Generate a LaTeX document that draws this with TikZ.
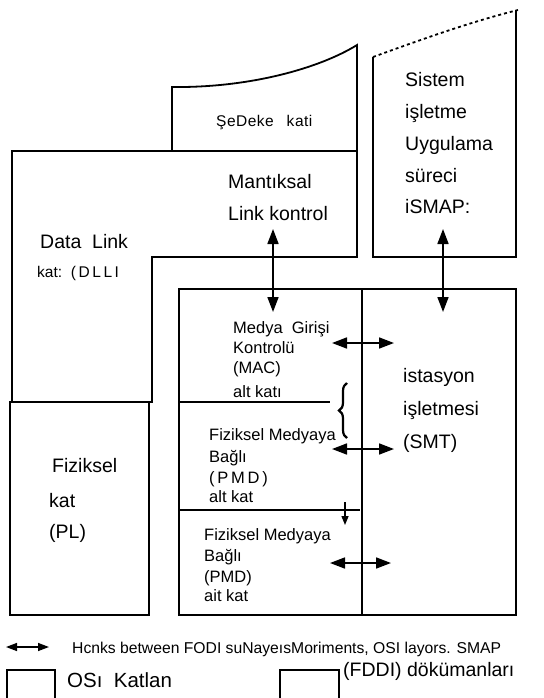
\documentclass[tikz,border=0pt]{standalone}
\usepackage{fontspec}
\setmainfont{Liberation Sans}
\usetikzlibrary{arrows.meta,decorations.pathreplacing}
\begin{document}
\begin{tikzpicture}[x=1pt,y=-1pt,
  frame/.style={line width=1.8pt, line join=miter},
  dbl/.style={{Triangle[length=15pt,width=11pt]}-{Triangle[length=15pt,width=11pt]}, line width=1.7pt},
  sgl/.style={-{Triangle[length=9pt,width=7pt]}, line width=1.4pt},
  big/.style={font=\fontsize{19.5}{20}\selectfont, anchor=base west, inner sep=0pt},
  mid/.style={font=\fontsize{16.5}{18}\selectfont, anchor=base west, inner sep=0pt},
  sml/.style={font=\fontsize{15.5}{16}\selectfont, anchor=base west, inner sep=0pt},
  leg/.style={font=\fontsize{15.7}{16}\selectfont, anchor=base west, inner sep=0pt},
  legbig/.style={font=\fontsize{20.5}{22}\selectfont, anchor=base west, inner sep=0pt}]
\useasboundingbox (0,0) rectangle (543,698);

% ---- OSI layer shapes ----
% Network layer
\draw[frame] (172,151) -- (172,87) .. controls (250,88) and (320,68) .. (357,45) -- (357,151);
% Data link layer
\draw[frame] (12,402) -- (12,151) -- (357,151) -- (357,257) -- (152,257) -- (152,402) -- cycle;
% Physical layer
\draw[frame] (10,402) rectangle (149,615);
% System management application
\draw[frame, dashed] (373,57) .. controls (420,40) and (470,22) .. (518,10);
\draw[frame] (373,57) -- (373,257) -- (516,257) -- (516,10);

% ---- FDDI documents ----
\draw[frame] (179,289) rectangle (516,615);
\draw[frame] (362,289) -- (362,615);
\draw[frame] (179,402) -- (330,402);
\draw[frame] (179,510) -- (360,510);

% ---- texts ----
\node[sml] (net) at (216,127) {Ş\kern0.5pt e\kern0.5pt D\kern0.5pt e\kern0.5pt k\kern0.5pt e\ \ \ k\kern0.5pt a\kern0.5pt t\kern0.5pt i};
\node[big] (mant1) at (228,188) {Mantıksal};
\node[big] (mant2) at (228,220) {Link kontrol};
\node[big] (sys1) at (405,87) {Sistem};
\node[big] (sys2) at (405,118) {işletme};
\node[big] (sys3) at (405,150) {Uygulama};
\node[big] (sys4) at (405,182) {süreci};
\node[big] (sys5) at (405,213) {iSMAP:};
\node[big] (dl1) at (40,248) {Data\ \ Link};
\node[sml] (dl2) at (37,277) {kat:\ \ (\,D\,L\,L\,I};
\node[mid] (mac1) at (233,333) {Medya\ \ Girişi};
\node[mid] (mac2) at (233,353) {Kontrolü};
\node[mid] (mac3) at (233,373) {(MAC)};
\node[mid] (mac4) at (233,397) {alt\ katı};
\node[big] (smt1) at (403,382) {istasyon};
\node[big] (smt2) at (403,415) {işletmesi};
\node[big] (smt3) at (403,448) {(SMT)};
\node[big] (pl1) at (52,472) {Fiziksel};
\node[big] (pl2) at (49,507) {kat};
\node[big] (pl3) at (49,538) {(PL)};
\node[mid] (phy1) at (209,440) {Fiziksel Medyaya};
\node[mid] (phy2) at (209,462) {Bağlı};
\node[mid] (phy3) at (209,483) {(\,P\,M\,D\,)};
\node[mid] (phy4) at (209,502) {alt kat};
\node[mid] (pmd1) at (204,540) {Fiziksel Medyaya};
\node[mid] (pmd2) at (204,561) {Bağlı};
\node[mid] (pmd3) at (204,582) {(PMD)};
\node[mid] (pmd4) at (204,601) {ait kat};

% ---- connectors ----
\coordinate (llcT) at (273,229); \coordinate (llcB) at (273,312);
\draw[dbl] (llcT) -- (llcB);
\coordinate (smapT) at (443,229); \coordinate (smapB) at (443,312);
\draw[dbl] (smapT) -- (smapB);
\coordinate (macL) at (332,343); \coordinate (macR) at (394,343);
\draw[dbl] (macL) -- (macR);
\coordinate (phyL) at (332,449); \coordinate (phyR) at (394,449);
\draw[dbl] (phyL) -- (phyR);
\coordinate (pmdL) at (330,563); \coordinate (pmdR) at (391,563);
\draw[dbl] (pmdL) -- (pmdR);
\coordinate (smT) at (345,502); \coordinate (smB) at (345,525);
\draw[sgl] (smT) -- (smB);
\coordinate (brB) at (347,438); \coordinate (brT) at (347,383);
\draw[line width=2.2pt, decorate, decoration={brace, amplitude=8pt}] (brB) -- (brT);

% ---- legend ----
\coordinate (lgL) at (6,647); \coordinate (lgR) at (49,647);
\draw[{Triangle[length=11pt,width=8pt]}-{Triangle[length=11pt,width=8pt]}, line width=1.4pt] (lgL) -- (lgR);
\node[leg] (legtxt) at (72,653) {Hcnks between FODI suNayeısMoriments, OSI layors. SMAP};
\draw[frame] (7,699) -- (7,670) -- (55,670) -- (55,699);
\node[legbig] (osi) at (67,687) {OSı\ \ Katlan};
\draw[frame] (280,699) -- (280,670) -- (339,670) -- (339,699);
\node[big] (fddi) at (343,676) {(FDDI) dökümanları};
\end{tikzpicture}
\end{document}
